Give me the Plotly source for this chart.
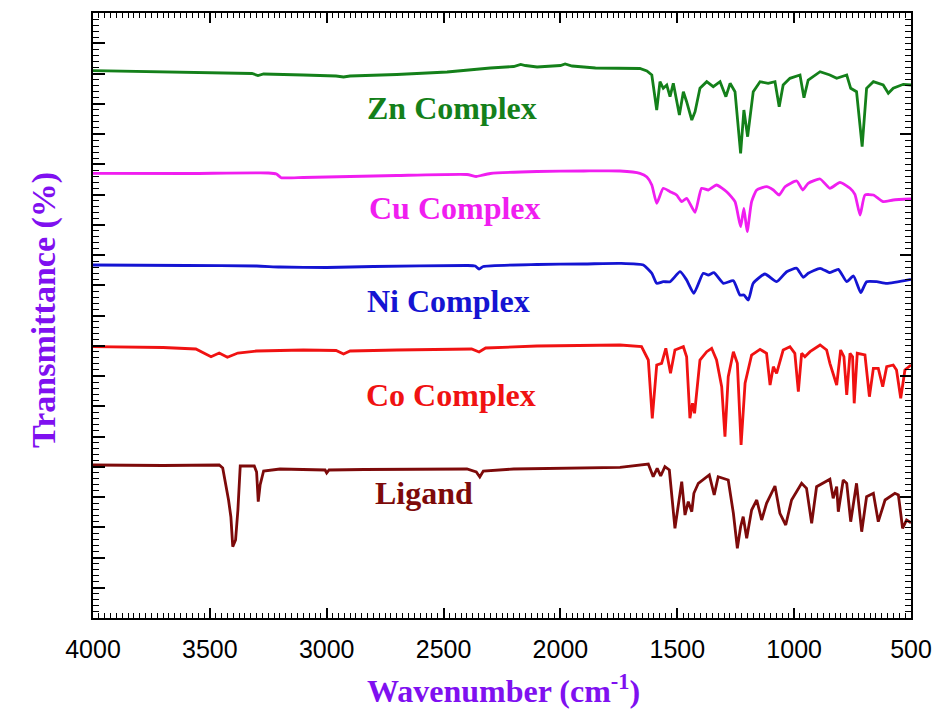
import plotly.graph_objects as go

# ---------------- data (wavenumber cm^-1, offset transmittance a.u.) ----------------
zn_w = [4000, 3700, 3400, 3320, 3294, 3270, 3100, 2960, 2928, 2900, 2700, 2485, 2300, 2200, 2170, 2150, 2100,
        2050, 2000, 1980, 1950, 1850, 1745, 1660, 1630, 1609, 1588, 1574, 1560, 1545, 1531, 1517, 1491, 1474,
        1460, 1438, 1424, 1403, 1374, 1346, 1317, 1292, 1274, 1253, 1229, 1215, 1199, 1175, 1146, 1111, 1082,
        1064, 1047, 1018, 975, 958, 940, 889, 847, 818, 775, 758, 733, 709, 690, 661, 619, 597, 576, 533, 500]
zn_t = [547.3, 546, 545, 544.5, 542.5, 544, 543, 542, 541, 542, 543.5, 546, 550, 551.5, 553.5, 552.5, 551,
        551.5, 552.5, 554, 552, 550, 549.7, 549.5, 547, 543, 508, 536.3, 529.7, 533, 521.3, 534.7, 503, 526.3,
        516.3, 498, 506.3, 529.7, 536.3, 531.3, 536.3, 521.3, 534.7, 526.3, 464.7, 508, 481.3, 526.3, 536.3, 534.7, 536.3,
        511.3, 533, 539.7, 543, 520.3, 538, 546.3, 543, 539.7, 543, 529.7, 526.3, 471.3, 529.7, 536.3, 533, 524.7, 529.7, 533.7, 533]

cu_w = [4000, 3600, 3250, 3215, 3195, 3100, 2900, 2700, 2400, 2360, 2340, 2300, 2100, 1900, 1745, 1660, 1630,
        1609, 1588, 1560, 1531, 1503, 1481, 1460, 1424, 1396, 1367, 1332, 1289, 1253, 1229, 1215, 1201, 1182,
        1160, 1118, 1089, 1064, 1039, 989, 963, 940, 889, 847, 804, 761, 740, 718, 697, 661, 619, 576, 500]
cu_t = [444.7, 444.5, 445, 444, 440.3, 440.5, 441.5, 442.5, 443.5, 441.5, 442.5, 444.5, 446.5, 447, 447, 444.7, 441,
        433, 414.7, 429.7, 426.3, 423, 416.3, 419.7, 405.7, 429.7, 428, 433, 426.3, 416.3, 391.3, 409.7, 386.3, 416.3,
        428, 431.3, 428, 423, 431.3, 437, 428, 434.7, 439, 429.7, 435.7, 429.7, 423.7, 403, 423, 423, 416.3, 418, 419]

ni_w = [4000, 3600, 3300, 3200, 3000, 2800, 2400, 2365, 2348, 2330, 2100, 1900, 1745, 1645, 1609, 1588, 1560,
        1531, 1488, 1460, 1429, 1389, 1367, 1343, 1303, 1260, 1232, 1215, 1196, 1175, 1125, 1075, 1032, 989,
        961, 940, 889, 847, 811, 775, 746, 715, 690, 647, 604, 500]
ni_t = [353, 352.5, 352, 351, 350.5, 351.5, 352.5, 352, 349, 351.5, 353.5, 354, 354.7, 353, 344.7, 334.7, 336.3,
        336.3, 346.3, 338, 324.7, 344.7, 343, 345.3, 334.7, 337.3, 323, 323, 318, 334.7, 344, 336.3, 346.3, 349.7,
        340.7, 344.7, 349.7, 345.3, 348.7, 336.3, 342, 325.3, 336.3, 336.3, 334.7, 338.7]

co_w = [4000, 3700, 3560, 3495, 3460, 3425, 3380, 3300, 3100, 2960, 2928, 2900, 2700, 2380, 2348, 2320, 2100,
        1900, 1745, 1653, 1624, 1607, 1588, 1567, 1549, 1529, 1510, 1474, 1460, 1446, 1435, 1426, 1403, 1374,
        1353, 1332, 1310, 1296, 1282, 1260, 1243, 1227, 1210, 1182, 1146, 1118, 1103, 1089, 1075, 1047, 1018,
        997, 982, 968, 954, 932, 889, 861, 847, 818, 801, 787, 775, 761, 750, 743, 730, 697, 678, 661, 640,
        621, 604, 576, 562, 544, 526, 500]
co_t = [271.3, 270.5, 269, 261.3, 265, 260.7, 265, 267, 268, 267.5, 264, 267, 268, 269, 266, 270, 272,
        272.5, 273, 271.3, 258, 199.7, 253, 254.7, 269.7, 244.7, 268, 271.3, 261.3, 199.7, 214.7, 204.7, 258, 266.3,
        269.7, 258, 231.3, 181.3, 241.3, 266.3, 254.7, 173, 234.7, 263, 268.7, 264.7, 233, 251.3, 244.7, 268, 271.3,
        264.7, 226.3, 264.7, 261.3, 266.3, 273, 268, 254.7, 233, 268, 261.3, 223, 264.7, 261.3, 214.7, 264.7, 263, 221.3, 249.7, 249.7,
        231.3, 251.3, 253, 248, 219.7, 248, 253]

lig_w = [4000, 3700, 3460, 3445, 3420, 3410, 3402, 3390, 3380, 3370, 3310, 3300, 3293, 3285, 3270, 3200, 3007,
         3000, 2990, 2840, 2400, 2360, 2345, 2330, 2200, 1900, 1745, 1624, 1603, 1586, 1571, 1553, 1534, 1510,
         1481, 1467, 1453, 1438, 1429, 1410, 1382, 1363, 1342, 1325, 1282, 1260, 1243, 1229, 1218, 1203, 1182,
         1160, 1139, 1118, 1082, 1061, 1036, 1011, 968, 947, 925, 904, 847, 833, 818, 811, 790, 775, 758, 733,
         711, 690, 661, 640, 611, 590, 569, 554, 536, 519, 500]
lig_t = [153, 152.5, 153, 150, 118, 101, 71.3, 78, 108, 152, 152, 146, 116.3, 133, 147, 149, 148,
         145, 148, 148.5, 149, 146, 141, 147, 149, 150, 150.7, 154, 141.3, 149.7, 142, 151.3, 148, 89.7,
         136.3, 103, 116.3, 106.3, 124.7, 134.7, 139.7, 143, 123, 141.3, 138, 104.7, 69.7, 91.3, 101.3, 79.7, 108,
         118, 98, 114.7, 132, 104.7, 93, 118, 134.7, 129.7, 94.7, 131.3, 138.7, 119.7, 131.3, 106.3, 138, 134.7, 96.3, 134.7,
         86.3, 121.3, 124.7, 96.3, 118, 121.3, 124.7, 123, 89.7, 98, 95.3]

series = [
    ("Zn Complex", zn_w, zn_t, "#14801a", "linear"),
    ("Cu Complex", cu_w, cu_t, "#f01ef0", "spline"),
    ("Ni Complex", ni_w, ni_t, "#1414d2", "spline"),
    ("Co Complex", co_w, co_t, "#f01212", "linear"),
    ("Ligand", lig_w, lig_t, "#7d0a0a", "linear"),
]

# label anchor positions (data coords)
label_x = [2462, 2452, 2478, 2470, 2585]
label_y = [510, 410, 317, 223, 125]

x_range = [4000, 500]
y_range = [0, 605]
x_ticks = [4000, 3500, 3000, 2500, 2000, 1500, 1000, 500]

fig = go.Figure()
for name, w, t, c, shape in series:
    line = dict(color=c, width=2.8, shape=shape)
    if shape == "spline":
        line["smoothing"] = 0.5
    fig.add_trace(go.Scatter(x=w, y=t, mode="lines", name=name, line=line, showlegend=False))
# helper trace so that the top/right axes are drawn
fig.add_trace(go.Scatter(x=[x_range[0]], y=[y_range[0]], xaxis="x2", yaxis="y2", mode="markers",
                         marker=dict(opacity=0), showlegend=False, hoverinfo="skip"))

for (name, w, t, c, shape), lx, ly in zip(series, label_x, label_y):
    fig.add_annotation(x=lx, y=ly, text=f"<b>{name}</b>", showarrow=False,
                       font=dict(family="Liberation Serif, Times New Roman, serif", size=32, color=c))

fig.add_annotation(xref="paper", yref="paper", x=0.5024, y=-0.153, text="<b>Wavenumber (cm<sup>-1</sup>)</b>",
                   showarrow=False, font=dict(family="Liberation Serif, Times New Roman, serif", size=32, color="#7f10f0"))
fig.add_annotation(xref="paper", yref="paper", x=-0.085, y=0.51, text="<b>Transmittance (%)</b>", textangle=-90,
                   showarrow=False, font=dict(family="Liberation Serif, Times New Roman, serif", size=34, color="#7f10f0"))

axis_common = dict(showgrid=False, zeroline=False, showline=True, linecolor="black", linewidth=2,
                   ticks="inside", tickcolor="black", tickwidth=1.5, automargin=False)

fig.update_layout(
    width=938, height=713,
    margin=dict(l=93, r=27, t=13, b=95),
    paper_bgcolor="white", plot_bgcolor="white",
    xaxis=dict(range=x_range, tickmode="array", tickvals=x_ticks, ticklen=10, ticklabelstandoff=8,
               minor=dict(dtick=25, tick0=0, ticklen=5, ticks="inside", tickcolor="black", tickwidth=1.2),
               tickfont=dict(family="Liberation Sans, Arial, sans-serif", size=25, color="black"),
               **axis_common),
    yaxis=dict(range=y_range, tickmode="linear", tick0=0, dtick=30.25, ticklen=12, showticklabels=False,
               minor=dict(dtick=6.05, tick0=0, ticklen=6, ticks="inside", tickcolor="black", tickwidth=1.2),
               **axis_common),
    xaxis2=dict(range=x_range, overlaying="x", side="top", tickmode="array", tickvals=x_ticks, ticklen=10,
                showticklabels=False,
                minor=dict(dtick=25, tick0=0, ticklen=5, ticks="inside", tickcolor="black", tickwidth=1.2),
                **axis_common),
    yaxis2=dict(range=y_range, overlaying="y", side="right", tickmode="linear", tick0=0, dtick=121, ticklen=11,
                showticklabels=False,
                minor=dict(dtick=6.05, tick0=0, ticklen=6, ticks="inside", tickcolor="black", tickwidth=1.2),
                **axis_common),
)

fig.write_html("out.html")
